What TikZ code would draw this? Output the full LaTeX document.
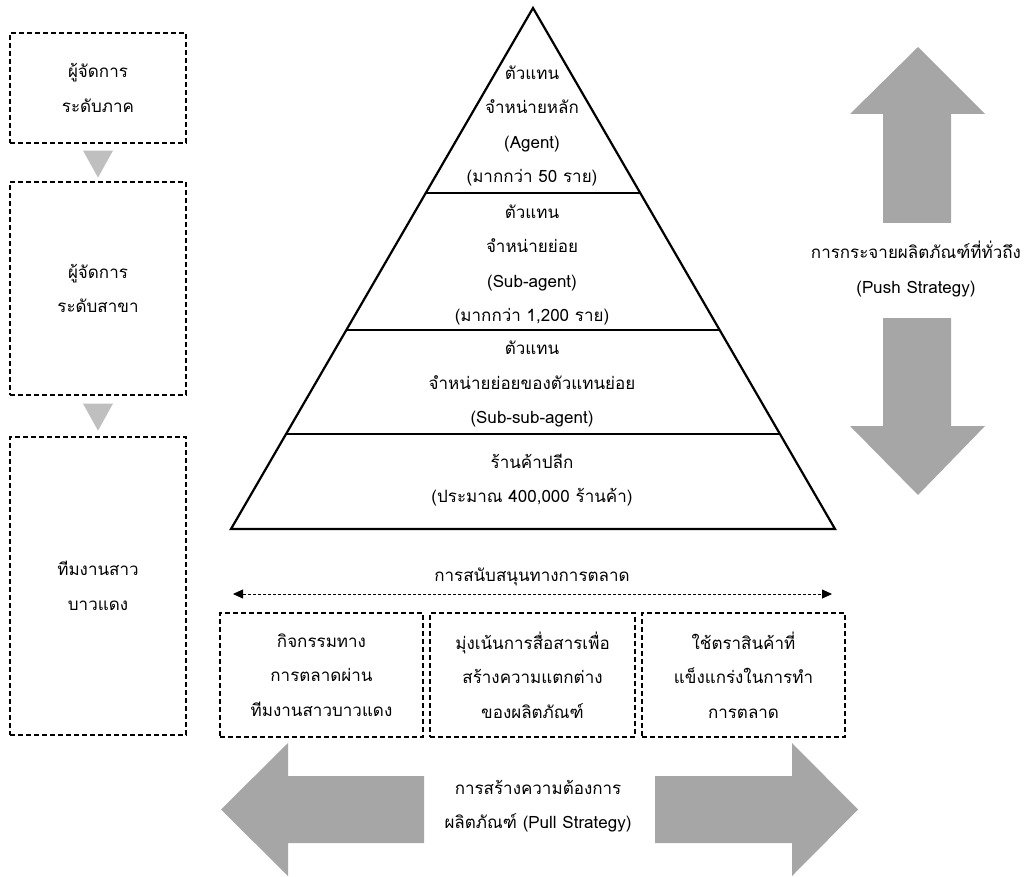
\documentclass[tikz,border=0pt]{standalone}
\usepackage{fontspec}
\newfontfamily\thaifont[Script=Thai]{Loma}
\usetikzlibrary{arrows.meta,calc}
\definecolor{arrgray}{RGB}{166,166,166}
\definecolor{trigray}{RGB}{191,191,191}
\begin{document}
\begin{tikzpicture}[x=1pt,y=-1pt,
  dbox/.style={draw, dash pattern=on 5pt off 3pt, line width=1.2pt, inner sep=0pt},
  txt/.style={align=center, inner sep=0pt, font=\thaifont\fontsize{17}{34.5}\selectfont},
  bigarrow/.style={fill=arrgray, draw=none},
  smalltri/.style={fill=trigray, draw=none},
  pyr/.style={line width=2.2pt, line join=miter},
]
\useasboundingbox (0,0) rectangle (1035,877);

% left dashed boxes
\node[dbox, txt, minimum width=176pt, minimum height=110pt] (m1) at (98,88) {ผู้จัดการ\\ระดับภาค};
\node[dbox, txt, minimum width=176pt, minimum height=213pt] (m2) at (98,288.5) {ผู้จัดการ\\ระดับสาขา};
\node[dbox, txt, minimum width=176pt, minimum height=298pt] (m3) at (98,586) {ทีมงานสาว\\บาวแดง};
\fill[smalltri] ($(m1.south)+(-15,7)$) -- ($(m1.south)+(15,7)$) -- ($(m1.south)+(0,34)$) -- cycle;
\fill[smalltri] ($(m2.south)+(-15,8)$) -- ($(m2.south)+(15,8)$) -- ($(m2.south)+(0,35)$) -- cycle;

% pyramid
\coordinate (apex) at (533,8);
\coordinate (bl) at (231,529);
\coordinate (br) at (835,529);
\draw[pyr] (apex) -- (bl) -- (br) -- cycle;
\draw[pyr] ($(apex)!0.3551!(bl)$) -- ($(apex)!0.3551!(br)$);
\draw[pyr] ($(apex)!0.6180!(bl)$) -- ($(apex)!0.6180!(br)$);
\draw[pyr] ($(apex)!0.8177!(bl)$) -- ($(apex)!0.8177!(br)$);
\node[txt] (p1) at (532,126) {ตัวแทน\\จำหน่ายหลัก\\(Agent)\\(มากกว่า 50 ราย)};
\node[txt] (p2) at (532,265) {ตัวแทน\\จำหน่ายย่อย\\(Sub-agent)\\(มากกว่า 1,200 ราย)};
\node[txt] (p3) at (532,384) {ตัวแทน\\จำหน่ายย่อยของตัวแทนย่อย\\(Sub-sub-agent)};
\node[txt] (p4) at (532,480) {ร้านค้าปลีก\\(ประมาณ 400,000 ร้านค้า)};

% push arrows
\node[txt] (push) at (916,269) {การกระจายผลิตภัณฑ์ที่ทั่วถึง\\(Push Strategy)};
\fill[bigarrow] (883,223) -- (883,114) -- (850,114) -- (918,47) -- (985,114) -- (951,114) -- (951,223) -- cycle;
\fill[bigarrow] (883,318) -- (883,426) -- (850,426) -- (918,495) -- (985,426) -- (951,426) -- (951,318) -- cycle;

% marketing support
\node[txt] (ms) at (532,577) {การสนับสนุนทางการตลาด};
\coordinate (msl) at (233,594);
\coordinate (msr) at (832,594);
\draw[line width=0.8pt, dash pattern=on 3pt off 2pt, {Triangle[length=10pt,width=9pt]}-{Triangle[length=10pt,width=9pt]}] (msl) -- (msr);

\node[dbox, txt, minimum width=203pt, minimum height=124pt] (b1) at (321.5,675) {กิจกรรมทาง\\การตลาดผ่าน\\ทีมงานสาวบาวแดง};
\node[dbox, txt, minimum width=205pt, minimum height=124pt] (b2) at (532.5,675) {มุ่งเน้นการสื่อสารเพื่อ\\สร้างความแตกต่าง\\ของผลิตภัณฑ์};
\node[dbox, txt, minimum width=203pt, minimum height=124pt] (b3) at (743.5,675) {ใช้ตราสินค้าที่\\แข็งแกร่งในการทำ\\การตลาด};

% pull arrows
\fill[bigarrow] (424,776) -- (288,776) -- (288,743) -- (221,809.5) -- (288,876) -- (288,843) -- (424,843) -- cycle;
\fill[bigarrow] (655,776) -- (792,776) -- (792,743) -- (858,809.5) -- (792,876) -- (792,843) -- (655,843) -- cycle;
\node[txt] (pull) at (538,806) {การสร้างความต้องการ\\ผลิตภัณฑ์ (Pull Strategy)};
\end{tikzpicture}
\end{document}
